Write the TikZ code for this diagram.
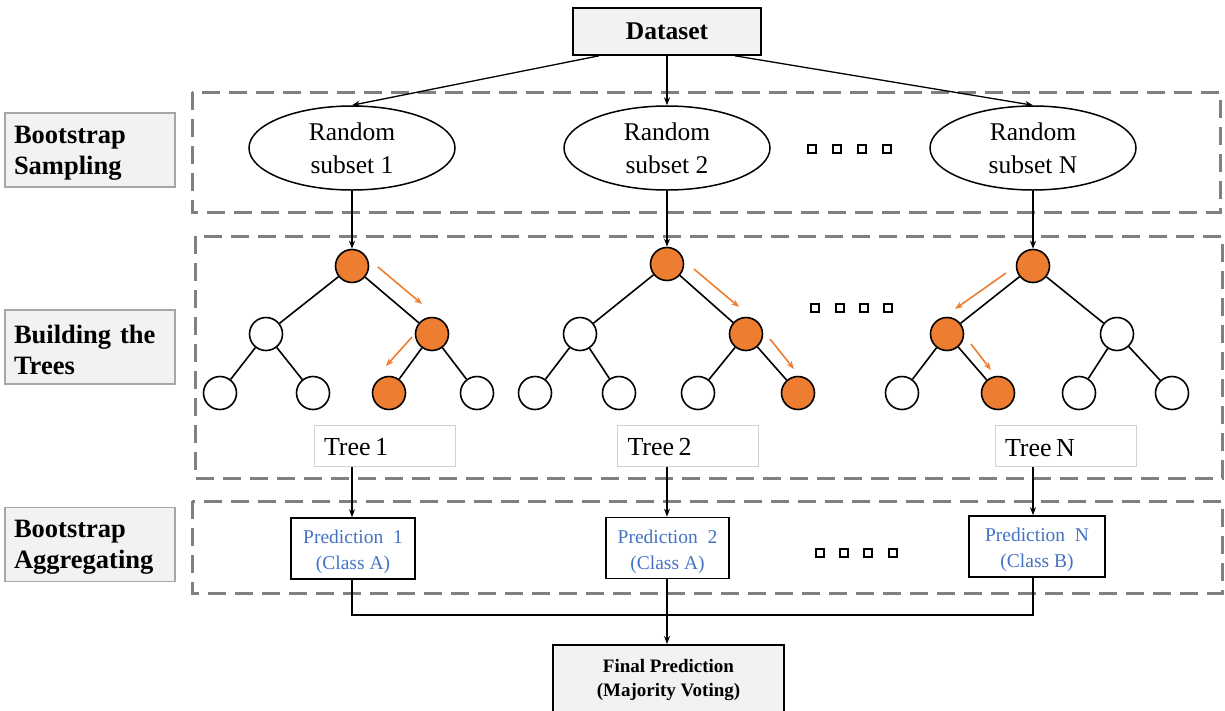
\documentclass[tikz,border=0pt]{standalone}
\usepackage{fontspec}
\setmainfont{Liberation Serif}
\usetikzlibrary{shapes.geometric,arrows.meta}
\definecolor{org}{HTML}{ED7D31}
\definecolor{predblue}{HTML}{4472C4}
\definecolor{dgray}{HTML}{7F7F7F}
\definecolor{lgfill}{HTML}{F2F2F2}
\begin{document}
\begin{tikzpicture}[x=1pt,y=-1pt,
  lbl/.style={draw=black!35, line width=1.5pt, fill=lgfill, minimum width=170pt, minimum height=74pt, inner sep=0pt},
  lbltxt/.style={inner sep=0pt, text width=152pt, align=left, font=\fontsize{26.5}{31}\selectfont\bfseries},
  rowbox/.style={draw=dgray, line width=3pt, dash pattern=on 18pt off 9pt},
  subset/.style={ellipse, draw, line width=1.5pt, minimum width=206pt, minimum height=84pt, inner sep=0pt,
    align=center, font=\fontsize{25.5}{33}\selectfont},
  wn/.style={circle, draw, line width=1.6pt, fill=white, minimum size=33pt, inner sep=0pt},
  on/.style={wn, fill=org},
  edge/.style={line width=1.6pt},
  oarr/.style={draw=org, line width=1.6pt, -{Stealth[length=8pt,width=6pt]}},
  conn/.style={line width=1.3pt, -{Stealth[length=8pt,width=6pt]}},
  plain/.style={line width=1.3pt},
  treelbl/.style={draw=black!18, line width=1pt, minimum width=141pt, minimum height=41pt, inner sep=0pt},
  treetxt/.style={inner sep=0pt, text width=123pt, align=left, font=\fontsize{26}{30}\selectfont},
  pred/.style={draw, line width=1.6pt, minimum height=61pt, inner sep=0pt},
  predtxt/.style={inner sep=0pt, align=center, text=predblue, font=\fontsize{19.5}{26}\selectfont},
  sq/.style={draw, line width=1.3pt, fill=white, minimum size=8pt, inner sep=0pt},
  grayfill/.style={draw, line width=1.6pt, fill=lgfill, inner sep=0pt, align=center}
]
\clip (0,0) rectangle (1225,710);
\fill[white] (0,0) rectangle (1225,710);

% dashed rows
\draw[rowbox] (192,92) rectangle (1220,212);
\draw[rowbox] (195,236) rectangle (1222,478);
\draw[rowbox] (192,501) rectangle (1222,593);

% left labels
\node[lbl] (lab1) at (90,150) {};
\node[lbltxt] (lab1t) at (90,153) {Bootstrap\\Sampling};
\node[lbl] (lab2) at (90,347) {};
\node[lbltxt] (lab2t) at (90,350) {Building the\\Trees};
\node[lbl] (lab3) at (90,544.5) {};
\node[lbltxt] (lab3t) at (90,547.5) {Bootstrap\\Aggregating};

% dataset
\node[grayfill, minimum width=188pt, minimum height=47pt, font=\fontsize{25.5}{28}\selectfont\bfseries]
  (ds) at (667,31.5) {Dataset};

% subsets
\node[subset] (e1) at (352,148) {Random\\subset 1};
\node[subset] (e2) at (667,148) {Random\\subset 2};
\node[subset] (e3) at (1033,148) {Random\\subset N};

\draw[conn] ([xshift=-68pt]ds.south) -- (e1.north);
\draw[conn] (ds.south) -- (e2.north);
\draw[conn] ([xshift=68pt]ds.south) -- (e3.north);

% dots row 1
\node[sq] (d11) at (812,149) {};
\node[sq] (d12) at (837,149) {};
\node[sq] (d13) at (862,149) {};
\node[sq] (d14) at (887,149) {};
% dots row 2
\node[sq] (d21) at (815,308) {};
\node[sq] (d22) at (840,308) {};
\node[sq] (d23) at (864,308) {};
\node[sq] (d24) at (888,308) {};
% dots row 3
\node[sq] (d31) at (820,553) {};
\node[sq] (d32) at (844,553) {};
\node[sq] (d33) at (868,553) {};
\node[sq] (d34) at (893,553) {};

% Tree 1
\node[on] (t1r) at (352,266) {};
\node[wn] (t1a) at (266,334) {};
\node[on] (t1b) at (432,334) {};
\node[wn] (t1aa) at (220,393) {};
\node[wn] (t1ab) at (313,393) {};
\node[on] (t1ba) at (389,393) {};
\node[wn] (t1bb) at (477,393) {};
\draw[edge] (t1r) -- (t1a); \draw[edge] (t1r) -- (t1b);
\draw[edge] (t1a) -- (t1aa); \draw[edge] (t1a) -- (t1ab);
\draw[edge] (t1b) -- (t1ba); \draw[edge] (t1b) -- (t1bb);
\coordinate (o11s) at (378,267); \coordinate (o11e) at (422,304);
\coordinate (o12s) at (412,337); \coordinate (o12e) at (386,366);
\draw[oarr] (o11s) -- (o11e);
\draw[oarr] (o12s) -- (o12e);

% Tree 2
\node[on] (t2r) at (667,264) {};
\node[wn] (t2a) at (580,334) {};
\node[on] (t2b) at (746,334) {};
\node[wn] (t2aa) at (535,393) {};
\node[wn] (t2ab) at (619,393) {};
\node[wn] (t2ba) at (698,393) {};
\node[on] (t2bb) at (798,393) {};
\draw[edge] (t2r) -- (t2a); \draw[edge] (t2r) -- (t2b);
\draw[edge] (t2a) -- (t2aa); \draw[edge] (t2a) -- (t2ab);
\draw[edge] (t2b) -- (t2ba); \draw[edge] (t2b) -- (t2bb);
\coordinate (o21s) at (694,269); \coordinate (o21e) at (739,307);
\coordinate (o22s) at (770,339); \coordinate (o22e) at (794,369);
\draw[oarr] (o21s) -- (o21e);
\draw[oarr] (o22s) -- (o22e);

% Tree N
\node[on] (t3r) at (1033,266) {};
\node[on] (t3a) at (947,334) {};
\node[wn] (t3b) at (1117,334) {};
\node[wn] (t3aa) at (902,393) {};
\node[on] (t3ab) at (998,393) {};
\node[wn] (t3ba) at (1079,393) {};
\node[wn] (t3bb) at (1172,393) {};
\draw[edge] (t3r) -- (t3a); \draw[edge] (t3r) -- (t3b);
\draw[edge] (t3a) -- (t3aa); \draw[edge] (t3a) -- (t3ab);
\draw[edge] (t3b) -- (t3ba); \draw[edge] (t3b) -- (t3bb);
\coordinate (o31s) at (1006,273); \coordinate (o31e) at (955,309);
\coordinate (o32s) at (971,344); \coordinate (o32e) at (991,370);
\draw[oarr] (o31s) -- (o31e);
\draw[oarr] (o32s) -- (o32e);

% subset -> roots
\draw[conn] (e1.south) -- (t1r.north);
\draw[conn] (e2.south) -- (t2r.north);
\draw[conn] (e3.south) -- (t3r.north);

% tree labels
\node[treelbl] (tl1) at (384.5,445.5) {};
\node[treetxt] (tl1t) at (385.5,447.5) {Tree\hspace{0.17em}1};
\node[treelbl] (tl2) at (688,445.5) {};
\node[treetxt] (tl2t) at (689,447.5) {Tree\hspace{0.17em}2};
\node[treelbl] (tl3) at (1065.5,446) {};
\node[treetxt] (tl3t) at (1066.5,448) {Tree\hspace{0.17em}N};

% predictions
\node[pred, minimum width=124pt] (p1) at (353,548.5) {};
\node[predtxt] (p1t) at (353,552) {Prediction~~1\\(Class A)};
\node[pred, minimum width=123pt] (p2) at (667.5,548) {};
\node[predtxt] (p2t) at (667.5,551.5) {Prediction~~2\\(Class A)};
\node[pred, minimum width=136pt] (p3) at (1037,546.5) {};
\node[predtxt] (p3t) at (1037,550) {Prediction~~N\\(Class B)};

\draw[conn] (tl1.south -| t1r) -- (p1.north -| t1r);
\draw[conn] (tl2.south -| t2r) -- (p2.north -| t2r);
\draw[conn] (tl3.south -| t3r) -- (p3.north -| t3r);

% final
\node[grayfill, minimum width=231pt, minimum height=80pt, anchor=north] (fin) at (668.5,644) {};
\node[inner sep=0pt, align=center, font=\fontsize{19}{24}\selectfont\bfseries] (fint) at (668.5,680)
  {Final Prediction\\(Majority Voting)};

\coordinate (j1) at (352,615);
\coordinate (j3) at (1033,615);
\draw[plain] (p1.south -| j1) -- (j1) -- (j3) -- (p3.south -| j3);
\draw[conn] (p2.south -| t2r) -- (fin.north -| t2r);
\end{tikzpicture}
\end{document}
